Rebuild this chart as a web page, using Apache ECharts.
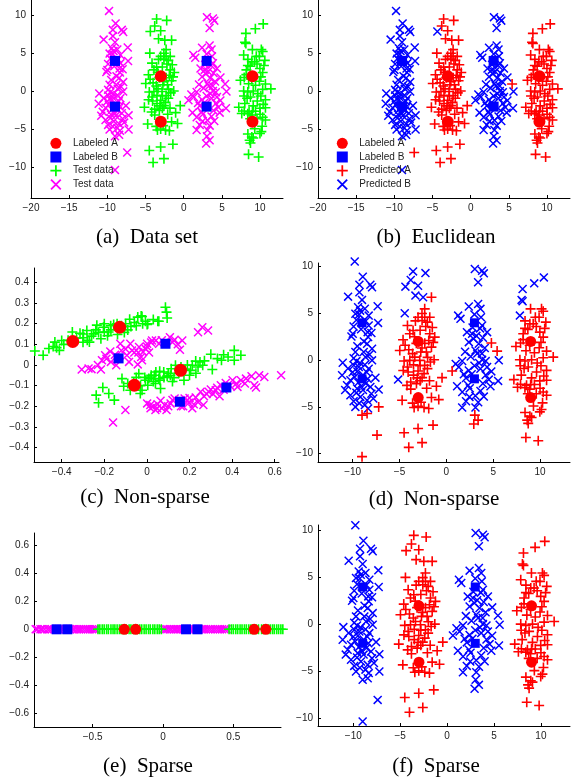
<!DOCTYPE html>
<html>
<head>
<meta charset="utf-8">
<script src="https://cdn.jsdelivr.net/npm/echarts@6/dist/echarts.min.js"></script>
<style>
  html, body { margin: 0; padding: 0; background: #fff; }
  #chart { width: 571px; height: 782px; }
</style>
</head>
<body>
<div id="chart"></div>
<script>
// labeled points (panels a, b, d, f)
const labeledA = [[-3, 2], [-3, -4], [9, 2], [9, -4]];
const labeledB = [[-9, 4], [-9, -2], [3, 4], [3, -2]];

// test points of class A, cluster near x = -3
const a1Core = [[-1.59, 6.73], [-2.31, 5.49], [-3.02, 4.6], [-2.31, 4.6], [-1.77, 4.6], [-2.59, 4.24], [-2.02, 4.07],
  [-4.15, 3.71], [-3.55, 3.18], [-3.9, 2.82], [-1.77, 2.82], [-1.24, 2.47], [-4.62, 2.18], [-1.88, 2.11], [-4.97, 1.04],
  [-4.01, 1.12], [-2.73, 0.87], [-2.13, 0.87], [-1.59, 1.4], [-1.31, 0.05], [-4.51, -0.09], [-3.9, -0.02], [-3.37, 0.33],
  [-2.84, -0.02], [-2.31, -0.55], [-4.15, -0.73], [-3.02, -1.16], [-2.38, -1.44], [-2.02, -0.91], [-4.08, -1.27],
  [-3.8, -2.33], [-3.19, -2.51], [-2.59, -1.87], [-0.46, -1.87], [-1.06, -2.79], [-4.72, -4.29], [-1.59, -4.0],
  [-0.81, -4.22], [-3.44, -5.07], [-3.02, -4.93], [-2.38, -5.07], [-1.88, -5.17], [-1.42, -6.95], [-3.02, -7.31],
  [-4.51, -7.77], [-2.59, -8.83], [-4.01, -9.33], [-2.8, 3.2], [-2.3, 1.8], [-3.2, 1.8], [-3.6, 0.7], [-2.0, 0.3],
  [-2.8, -0.6], [-3.8, -3.1], [-3.1, -1.9], [-2.8, -2.2], [-2.2, 3.6], [-3.4, 2.5],
  [-2.6, 5.0], [-3.3, 4.2], [-1.5, 3.5], [-4.4, 1.6], [-2.6, 1.3], [-1.7, -0.2], [-3.5, -0.5], [-4.6, -1.1],
  [-3.5, -1.6], [-1.8, -2.2], [-2.1, -3.0], [-3.6, -4.6], [-2.7, -4.5], [-4.2, -2.7], [-1.4, 1.9]];
const a1Far = [[-3.55, 9.5], [-2.23, 9.32], [-3.8, 8.58], [-3.02, 7.97], [-3.3, 6.91], [-2.48, 6.73], [-4.44, 5.02], [-5.15, -2.08]];
const a1Odd = [[-4.37, 7.87]];

// test points of class A, cluster near x = 9
const a2Core = [[8.99, 5.49], [10.16, 5.49], [10.34, 5.24], [10.62, 4.07], [8.92, 3.89], [9.27, 3.89], [8.21, 2.82],
  [9.98, 3.0], [10.34, 2.47], [7.43, 1.47], [7.92, 1.83], [9.91, 1.33], [10.7, 0.97], [11.41, 0.33], [7.85, 0.05],
  [8.39, -0.09], [9.1, 0.05], [10.34, 0.26], [8.74, -0.73], [9.63, -1.27], [10.7, -1.09], [7.21, -2.08], [7.92, -2.58],
  [8.56, -2.69], [9.98, -2.22], [10.7, -2.15], [8.39, -2.94], [10.34, -3.4], [10.7, -3.75], [10.27, -4.57],
  [10.16, -5.28], [9.98, -5.53], [8.92, -5.99], [9.1, -6.13], [8.63, -6.42], [8.74, -6.77], [8.49, -8.27], [9.81, -8.62],
  [8.7, 3.3], [9.6, 3.6], [8.5, 1.0], [9.4, 0.8], [8.3, -0.9], [9.1, -1.9], [9.4, -2.6], [8.9, -3.1], [9.7, -0.3],
  [8.2, 2.2], [10.0, -3.0], [9.5, 4.6], [8.4, 4.2],
  [9.9, 4.6], [8.4, 3.4], [10.1, 1.9], [8.9, 1.6], [7.9, -0.6], [10.1, -0.6], [8.0, -1.6], [10.4, -1.7], [9.0, -2.6],
  [7.6, -2.9], [9.6, -3.6], [8.7, -3.6], [10.5, 3.4], [9.3, -4.9], [8.4, -5.6]];
const a2Top = [[10.41, 8.86], [9.38, 8.22], [8.14, 7.62], [8.03, 6.45], [8.14, 6.3], [7.85, 4.77]];

// test points of class B, cluster near x = -9
const b1Core = [[-9.78, 10.57], [-8.92, 8.93], [-9.28, 8.08], [-8.11, 8.08], [-7.93, 7.8], [-9.28, 7.26], [-10.49, 6.8],
  [-9.0, 6.45], [-7.33, 5.77], [-9.42, 5.66], [-9.71, 4.96], [-8.29, 4.77], [-7.29, 3.99], [-8.29, 3.71], [-9.99, 2.82],
  [-10.13, 2.54], [-8.35, 2.47], [-8.46, 1.76], [-9.71, 0.87], [-8.82, 0.87], [-7.93, 1.22], [-8.64, 0.33],
  [-11.06, -0.27], [-9.88, -0.55], [-7.93, -0.02], [-9.35, -0.73], [-8.29, -0.91], [-11.13, -1.62], [-10.24, -2.15],
  [-7.57, -1.87], [-10.6, -2.69], [-9.53, -3.04], [-7.22, -3.15], [-8.11, -2.86], [-10.24, -3.75], [-9.18, -3.93],
  [-8.46, -4.29], [-9.71, -5.0], [-8.35, -5.17], [-9.6, 4.3], [-9.3, 4.9], [-8.6, 4.2], [-8.4, 3.0], [-9.9, 3.6],
  [-9.5, -1.2], [-8.9, -1.6], [-9.2, -0.3], [-8.6, -2.5], [-9.8, -1.8], [-8.9, -3.2], [-9.4, -2.4], [-8.7, -0.5],
  [-9.9, -4.4],
  [-9.1, 3.3], [-8.8, 2.0], [-9.5, 1.5], [-8.2, 0.6], [-9.9, 0.2], [-10.5, -0.9], [-10.0, -1.3], [-8.5, -1.3],
  [-9.1, -2.8], [-8.0, -3.6], [-9.6, -3.5], [-10.8, -3.2], [-8.7, -4.8], [-9.3, -4.6], [-7.8, -4.1], [-9.2, 5.3],
  [-8.7, 5.5], [-8.0, 2.9], [-9.6, -0.1], [-8.4, -2.0]];
const b1Low = [[-7.22, -5.0], [-9.0, -5.88], [-8.46, -5.71], [-9.0, -10.33]];
const b1Odd = [[-7.4, -8.02]];

// test points of class B, cluster near x = 3
const b2Core = [[3.04, 9.75], [3.82, 9.57], [4.0, 9.29], [3.39, 8.33], [2.4, 5.74], [3.39, 6.02], [3.64, 5.49],
  [1.26, 4.77], [1.51, 4.42], [3.82, 3.71], [4.35, 3.0], [2.75, 2.82], [2.4, 1.93], [3.46, 1.76], [3.11, 1.04],
  [5.6, -0.02], [1.69, -0.09], [3.82, 0.05], [1.33, -0.73], [4.35, -0.73], [3.64, -0.91], [1.87, -1.52], [4.53, -2.08],
  [5.53, -2.22], [1.15, -2.79], [2.33, -2.69], [3.64, -3.29], [4.71, -2.79], [2.47, -3.93], [1.69, -5.07], [3.11, -5.07],
  [2.9, 2.3], [3.3, 0.7], [3.8, 0.7], [2.6, 0.4], [4.2, -0.1], [3.5, -0.3], [2.8, 3.5], [3.6, 3.4], [3.2, 2.6],
  [3.1, -3.8], [3.4, -4.5], [2.5, -3.0], [2.1, -1.9], [4.2, -1.6],
  [2.2, 3.0], [3.9, 2.4], [4.1, 1.3], [2.0, 0.9], [3.0, -0.6], [2.4, -1.1], [4.8, -1.2], [3.9, -2.5], [2.7, -1.5],
  [1.7, -3.4], [4.0, -3.9], [3.0, 4.9], [3.7, 4.6], [2.1, -4.4], [1.0, -0.4]];
const b2Low = [[4.81, 1.83], [0.62, -1.16], [3.04, -5.88], [3.39, -6.42], [2.93, -6.84]];
const b2Odd = [[5.42, 0.97]];

// panel (c)
const cLabeledA = [[-0.348, 0.114], [-0.128, 0.183], [-0.059, -0.098], [0.158, -0.026]];
const cLabeledB = [[-0.133, 0.032], [0.087, 0.103], [0.155, -0.178], [0.373, -0.109]];
const cTestA = [[-0.526, 0.068], [-0.487, 0.047], [-0.432, 0.111], [-0.424, 0.084], [-0.411, 0.071], [-0.4, 0.119],
  [-0.314, 0.154], [-0.298, 0.132], [-0.282, 0.167], [-0.27, 0.111], [-0.251, 0.151], [-0.235, 0.193], [-0.227, 0.158],
  [-0.216, 0.127], [-0.204, 0.183], [-0.185, 0.142], [-0.169, 0.17], [-0.156, 0.196], [-0.138, 0.148], [-0.106, 0.158],
  [-0.081, 0.222], [-0.075, 0.187], [-0.059, 0.206], [-0.043, 0.232], [-0.027, 0.238], [-0.007, 0.212], [0.004, 0.2],
  [0.051, 0.212], [0.087, 0.28], [0.092, 0.256], [0.095, 0.228], [0.056, 0.212], [-0.023, 0.235], [0.001, 0.196],
  [-0.44, 0.09], [-0.37, 0.12], [-0.33, 0.13], [-0.3, 0.15], [-0.26, 0.14], [-0.2, 0.16], [-0.17, 0.19], [-0.12, 0.19],
  [-0.1, 0.2], [-0.05, 0.19], [-0.2, 0.2], [-0.3, 0.11],
  [-0.46, 0.08], [-0.39, 0.1], [-0.35, 0.16], [-0.28, 0.12], [-0.24, 0.17], [-0.18, 0.16], [-0.14, 0.2], [-0.09, 0.17],
  [-0.02, 0.2], [0.03, 0.22],
  [-0.117, -0.066], [-0.109, -0.103], [-0.078, -0.122], [-0.031, -0.138], [-0.062, -0.082], [-0.038, -0.042],
  [-0.007, -0.074], [0.004, -0.098], [0.02, -0.058], [0.042, -0.034], [0.061, -0.074], [-0.207, -0.109],
  [-0.238, -0.146], [-0.179, -0.138], [-0.153, -0.17], [-0.227, -0.183], [-0.023, -0.122], [0.009, -0.066],
  [0.02, -0.05], [0.035, -0.05], [0.04, -0.09], [0.056, -0.066], [0.064, -0.114], [0.079, -0.034], [0.095, -0.054],
  [0.114, -0.018], [0.127, -0.061], [0.134, -0.001], [0.174, -0.074], [0.205, -0.026], [0.213, -0.001], [0.229, 0.019],
  [0.249, 0.015], [0.262, -0.001], [0.3, 0.052], [0.307, -0.022], [0.331, 0.031], [0.35, 0.023], [0.381, 0.039],
  [0.41, 0.071], [0.41, 0.023], [0.441, 0.047], [0.06, -0.03], [0.1, -0.04], [0.15, -0.04], [0.18, -0.02],
  [0.2, -0.05], [0.24, -0.01], [0.12, -0.08], [-0.05, -0.06], [-0.03, -0.1],
  [-0.09, -0.09], [-0.01, -0.06], [0.03, -0.08], [0.08, -0.06], [0.11, -0.05], [0.16, -0.01], [0.19, 0.0], [0.27, 0.02],
  [0.36, 0.05], [0.23, -0.04]];
const cTestB = [[-0.306, -0.022], [-0.274, -0.017], [-0.216, -0.022], [-0.211, 0.023], [-0.196, 0.047], [-0.172, 0.066],
  [-0.169, 0.015], [-0.144, -0.001], [-0.125, 0.103], [-0.1, 0.077], [-0.094, 0.047], [-0.084, 0.015], [-0.078, 0.103],
  [-0.059, 0.061], [-0.043, 0.003], [-0.037, 0.087], [-0.027, 0.039], [-0.005, 0.077], [0.01, 0.061], [0.02, 0.109],
  [0.042, 0.119], [0.057, 0.103], [0.001, 0.103], [0.024, 0.119], [-0.018, 0.063], [-0.023, 0.023], [0.108, 0.135],
  [0.13, 0.122], [0.145, 0.1], [0.155, 0.074], [0.166, 0.119], [0.24, 0.159], [0.26, 0.183], [0.287, 0.167],
  [-0.159, -0.279], [-0.101, -0.218],
  [-0.26, -0.02], [-0.23, 0.0], [-0.19, 0.03], [-0.15, 0.05], [-0.12, 0.07], [-0.07, 0.07], [-0.04, 0.06], [0.0, 0.09],
  [0.07, 0.12], [0.12, 0.11],
  [0.001, -0.186], [0.017, -0.21], [0.04, -0.218], [0.064, -0.173], [0.083, -0.194], [0.092, -0.218], [0.111, -0.186],
  [0.13, -0.162], [0.177, -0.162], [0.197, -0.183], [0.213, -0.21], [0.229, -0.157], [0.252, -0.13], [0.268, -0.151],
  [0.265, -0.194], [0.3, -0.119], [0.323, -0.122], [0.347, -0.098], [0.341, -0.151], [0.37, -0.087], [0.402, -0.074],
  [0.425, -0.106], [0.441, -0.074], [0.465, -0.066], [0.491, -0.054], [0.504, -0.098], [0.512, -0.109], [0.527, -0.05],
  [0.551, -0.058], [0.63, -0.05], [0.016, -0.194], [0.048, -0.21], [0.05, -0.19], [0.1, -0.2], [0.15, -0.18],
  [0.17, -0.2], [0.2, -0.16], [0.22, -0.19], [0.28, -0.14], [0.31, -0.14], [0.36, -0.12], [0.39, -0.1],
  [0.03, -0.2], [0.07, -0.21], [0.12, -0.17], [0.16, -0.2], [0.19, -0.17], [0.24, -0.18], [0.29, -0.13], [0.33, -0.11],
  [0.42, -0.09], [0.46, -0.09]];

// panel (e): everything lies on y = 0
const eLabeledA = [-0.275, -0.194, 0.648, 0.731];
const eLabeledB = [-0.756, -0.68, 0.164, 0.245];
const eTestA = [-0.462, -0.449, -0.432, -0.418, -0.401, -0.388, -0.37, -0.355, -0.342, -0.326, -0.31, -0.297, -0.282,
  -0.262, -0.241, -0.228, -0.211, -0.182, -0.165, -0.151, -0.134, -0.12, -0.103, -0.09, -0.072, -0.058, -0.041, -0.027,
  -0.012, 0.47, 0.486, 0.5, 0.517, 0.531, 0.548, 0.562, 0.579, 0.593, 0.61, 0.625, 0.638, 0.662, 0.679, 0.701, 0.716,
  0.748, 0.762, 0.778, 0.791, 0.808, 0.822, 0.838, 0.852];
const eTestB = [-0.905, -0.893, -0.871, -0.86, -0.842, -0.821, -0.806, -0.79, -0.77, -0.752, -0.741, -0.722, -0.708,
  -0.69, -0.671, -0.659, -0.64, -0.628, -0.611, -0.597, -0.583, -0.566, -0.549, -0.534, -0.52, -0.505, -0.49, -0.478,
  0.003, 0.018, 0.031, 0.047, 0.06, 0.078, 0.092, 0.108, 0.122, 0.139, 0.15, 0.171, 0.188, 0.2, 0.213, 0.231, 0.259,
  0.276, 0.29, 0.305, 0.322, 0.338, 0.355, 0.372, 0.389, 0.405, 0.42, 0.437, 0.452];

// tick labels
const ticksWide = [-20, -15, -10, -5, 0, 5, 10];
const ticksTen = [-10, -5, 0, 5, 10];
const ticksCx = [-0.4, -0.2, 0, 0.2, 0.4, 0.6];
const ticksCy = [-0.4, -0.3, -0.2, -0.1, 0, 0.1, 0.2, 0.3, 0.4];
const ticksEx = [-0.5, 0, 0.5];
const ticksEy = [-0.6, -0.4, -0.2, 0, 0.2, 0.4, 0.6];

const captions = ['(a)\u2002Data set', '(b)\u2002Euclidean', '(c)\u2002Non-sparse', '(d)\u2002Non-sparse', '(e)\u2002Sparse', '(f)\u2002Sparse'];

const PLUS = 'path://M0,4.2H10V5.8H0Z M4.2,0H5.8V10H4.2Z';
const CROSS = 'path://M0,1.15L1.15,0L10,8.85L8.85,10Z M8.85,0L10,1.15L1.15,10L0,8.85Z';
const SQUARE = 'path://M0,0H10V10H0Z';

const grids = [
  { left: 31, top: 0, width: 252, height: 198 },
  { left: 318, top: 0, width: 252, height: 198 },
  { left: 34, top: 268, width: 245, height: 194 },
  { left: 318, top: 263, width: 252, height: 199 },
  { left: 34, top: 533, width: 247, height: 194 },
  { left: 318, top: 525, width: 252, height: 201 }
];
const xRanges = [[-20, 13], [-20, 13], [-0.53, 0.62], [-13.7, 13.2], [-0.917, 0.839], [-13.76, 13.1]];
const yRanges = [[-14, 12], [-14, 12], [-0.47, 0.47], [-10.9, 10.4], [-0.7, 0.69], [-10.8, 10.6]];
const xTicks = [ticksWide, ticksWide, ticksCx, ticksTen, ticksEx, ticksTen];
const yTicks = [ticksTen, ticksTen, ticksCy, ticksTen, ticksEy, ticksTen];
const captionPos = [[147, 237], [436, 237], [145, 497], [434, 499], [148, 766], [436, 766]];

const fmt = v => (v < 0 ? '\u2212' : '') + Math.abs(v);

const makeAxis = (i, range, ticks) => ({
  gridIndex: i,
  type: 'value',
  min: range[0],
  max: range[1],
  axisLine: { show: true, onZero: false, lineStyle: { color: '#000', width: 1 } },
  axisTick: { show: true, inside: true, length: 3, customValues: ticks, lineStyle: { color: '#000' } },
  axisLabel: { customValues: ticks, formatter: fmt, color: '#222', fontSize: 10, fontFamily: 'Liberation Sans', margin: 5 },
  splitLine: { show: false }
});

const styles = {
  plusG: { symbol: PLUS, symbolSize: 10, color: '#00ff00' },
  crossM: { symbol: CROSS, symbolSize: 9, color: '#ff00ff' },
  plusR: { symbol: PLUS, symbolSize: 10, color: '#ff0000' },
  crossB: { symbol: CROSS, symbolSize: 9, color: '#0000ff' },
  circ: { symbol: 'circle', symbolSize: 12, color: '#ff0000' },
  sq: { symbol: SQUARE, symbolSize: 10, color: '#0000ff' }
};

const pts = (i, name, data, kind, size) => ({
  type: 'scatter',
  name: name,
  xAxisIndex: i,
  yAxisIndex: i,
  data: data,
  symbol: styles[kind].symbol,
  symbolSize: size || styles[kind].symbolSize,
  itemStyle: { color: styles[kind].color, opacity: 1 },
  clip: false,
  silent: true
});

const allA = [].concat(a1Core, a1Far, a1Odd, a2Core, a2Top);
const allB = [].concat(b1Core, b1Low, b1Odd, b2Core, b2Low, b2Odd);
const onLine = xs => xs.map(x => [x, 0]);

const series = [
  // (a)
  pts(0, 'Test data \u00d7', allB, 'crossM'),
  pts(0, 'Test data +', allA, 'plusG'),
  pts(0, 'Labeled A', labeledA, 'circ'),
  pts(0, 'Labeled B', labeledB, 'sq'),
  // (b) Euclidean
  pts(1, 'Predicted B', [].concat(b1Core, b1Low, b2Core, b2Low, a1Odd), 'crossB'),
  pts(1, 'Predicted A', [].concat(a1Core, a1Far, a2Core, a2Top, b1Odd, b2Odd), 'plusR'),
  pts(1, 'Labeled A', labeledA, 'circ'),
  pts(1, 'Labeled B', labeledB, 'sq'),
  // (c)
  pts(2, 'Test data \u00d7', cTestB, 'crossM'),
  pts(2, 'Test data +', cTestA, 'plusG'),
  pts(2, 'Labeled A', cLabeledA, 'circ', 13),
  pts(2, 'Labeled B', cLabeledB, 'sq', 10),
  // (d) non-sparse
  pts(3, 'Predicted B', [].concat(b1Core, b2Core, a1Far, a1Odd, a2Top), 'crossB'),
  pts(3, 'Predicted A', [].concat(a1Core, a2Core, b1Low, b1Odd, b2Low, b2Odd), 'plusR'),
  pts(3, 'Labeled A', labeledA, 'circ', 11),
  pts(3, 'Labeled B', labeledB, 'sq', 9),
  // (e)
  pts(4, 'Test data \u00d7', onLine(eTestB), 'crossM'),
  pts(4, 'Test data +', onLine(eTestA), 'plusG'),
  pts(4, 'Labeled A', onLine(eLabeledA), 'circ', 11),
  pts(4, 'Labeled B', onLine(eLabeledB), 'sq', 10),
  // (f) sparse
  pts(5, 'Predicted B', allB, 'crossB'),
  pts(5, 'Predicted A', allA, 'plusR'),
  pts(5, 'Labeled A', labeledA, 'circ', 11),
  pts(5, 'Labeled B', labeledB, 'sq', 9)
];

const legendBase = {
  orient: 'vertical',
  top: 137.8,
  padding: 0,
  itemWidth: 24,
  itemHeight: 11,
  itemGap: 2.7,
  selectedMode: false,
  formatter: name => name.replace(/ [+\u00d7]$/, ''),
  textStyle: { fontFamily: 'Liberation Sans', fontSize: 10, color: '#222', lineHeight: 11 }
};

const chart = echarts.init(document.getElementById('chart'), null, { renderer: 'canvas' });
chart.setOption({
  animation: false,
  backgroundColor: '#fff',
  grid: grids,
  xAxis: grids.map((g, i) => makeAxis(i, xRanges[i], xTicks[i])),
  yAxis: grids.map((g, i) => makeAxis(i, yRanges[i], yTicks[i])),
  legend: [
    Object.assign({}, legendBase, {
      left: 50.4,
      data: [
        { name: 'Labeled A', icon: 'circle' },
        { name: 'Labeled B', icon: SQUARE },
        { name: 'Test data +', icon: PLUS },
        { name: 'Test data \u00d7', icon: CROSS }
      ]
    }),
    Object.assign({}, legendBase, {
      left: 336.8,
      data: [
        { name: 'Labeled A', icon: 'circle' },
        { name: 'Labeled B', icon: SQUARE },
        { name: 'Predicted A', icon: PLUS },
        { name: 'Predicted B', icon: CROSS }
      ]
    })
  ],
  graphic: captions.map((t, i) => ({
    type: 'text',
    x: captionPos[i][0],
    y: captionPos[i][1],
    style: {
      text: t,
      fontFamily: 'Liberation Serif',
      fontSize: 21,
      fill: '#000',
      textAlign: 'center',
      textVerticalAlign: 'middle'
    }
  })),
  series: series
});
</script>
</body>
</html>
